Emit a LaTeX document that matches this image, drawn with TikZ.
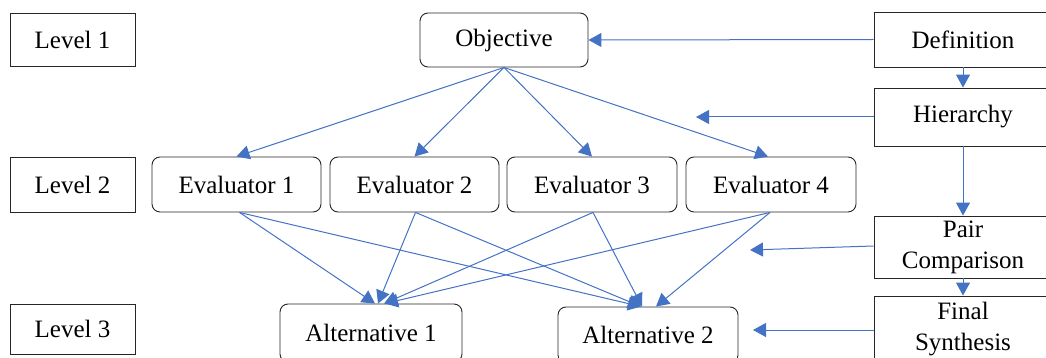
\documentclass[tikz,border=0pt]{standalone}
\usepackage{fontspec}
\setmainfont{Liberation Serif}
\usetikzlibrary{arrows.meta}
\definecolor{linkblue}{HTML}{4472C4}
\definecolor{boxline}{HTML}{262626}
\begin{document}
\begin{tikzpicture}[x=1pt,y=-1pt,
  txt/.style={font=\fontsize{25}{31}\selectfont, inner sep=0pt, align=center},
  sqbox/.style={txt, draw=boxline, line width=0.9pt, rectangle},
  rbox/.style={txt, draw=boxline, line width=0.9pt, rounded corners=8pt},
  link/.style={draw=linkblue, line width=1pt, -{Triangle[length=13pt,width=14pt,fill=linkblue]}}
]
\useasboundingbox (0,0) rectangle (1046,358);
\clip (0,0) rectangle (1046,358);
% level labels
\node[sqbox, minimum width=125pt, minimum height=53pt] (l1) at (72.5,39.5) {Level 1};
\node[sqbox, minimum width=125pt, minimum height=55pt] (l2) at (72.5,184.5) {Level 2};
\node[sqbox, minimum width=125pt, minimum height=50pt] (l3) at (72.5,329) {Level 3};
% hierarchy
\node[rbox, minimum width=168pt, minimum height=54pt] (obj) at (504,40) {Objective};
\node[rbox, minimum width=169pt, minimum height=55pt] (e1) at (236.5,184.5) {Evaluator 1};
\node[rbox, minimum width=169pt, minimum height=55pt] (e2) at (414.5,184.5) {Evaluator 2};
\node[rbox, minimum width=170pt, minimum height=55pt] (e3) at (592,184.5) {Evaluator 3};
\node[rbox, minimum width=170pt, minimum height=55pt] (e4) at (771,184.5) {Evaluator 4};
\node[rbox, minimum width=182pt, minimum height=58pt] (a1) at (371,333) {Alternative 1};
\node[rbox, minimum width=180pt, minimum height=56pt] (a2) at (648,335) {Alternative 2};
% process steps
\node[sqbox, minimum width=178pt, minimum height=55pt] (def) at (963,39.5) {Definition};
\node[sqbox, minimum width=178pt, minimum height=58pt] (hie) at (963,117) {Hierarchy};
\node[sqbox, minimum width=178pt, minimum height=62pt] (pair) at (963,247) {Pair\\Comparison};
\node[sqbox, minimum width=178pt, minimum height=66pt] (fin) at (963,329) {Final\\Synthesis};
% free ends
\coordinate (hieEnd) at (696,117);
\coordinate (pairEnd) at (750,250);
\coordinate (finEnd) at (753,330);
% objective to evaluators
\draw[link] (obj.south) -- (e1.north);
\draw[link] (obj.south) -- (e2.north);
\draw[link] (obj.south) -- (e3.north);
\draw[link] (obj.south) -- ([xshift=-3pt]e4.north);
% evaluators to alternatives
\draw[link] ([xshift=3pt]e1.south) -- ([xshift=4pt]a1.north);
\draw[link] ([xshift=3pt]e1.south) -- ([xshift=-7pt]a2.north);
\draw[link] ([xshift=1pt]e2.south) -- ([xshift=7pt]a1.north);
\draw[link] ([xshift=1pt]e2.south) -- ([xshift=-7pt]a2.north);
\draw[link] ([xshift=1pt]e3.south) -- ([xshift=13pt]a1.north);
\draw[link] ([xshift=1pt]e3.south) -- ([xshift=-6pt]a2.north);
\draw[link] ([xshift=-1pt]e4.south) -- ([xshift=14pt]a1.north);
\draw[link] ([xshift=-1pt]e4.south) -- ([xshift=8pt]a2.north);
% process arrows
\draw[link] (def.west) -- (obj.east);
\draw[link] (def.south) -- (hie.north);
\draw[link] (hie.south) -- (pair.north);
\draw[link] (pair.south) -- (fin.north);
\draw[link] (hie.west) -- (hieEnd);
\draw[link] ([yshift=1pt]pair.west) -- (pairEnd);
\draw[link] ([yshift=-1pt]fin.west) -- (finEnd);
\end{tikzpicture}
\end{document}
